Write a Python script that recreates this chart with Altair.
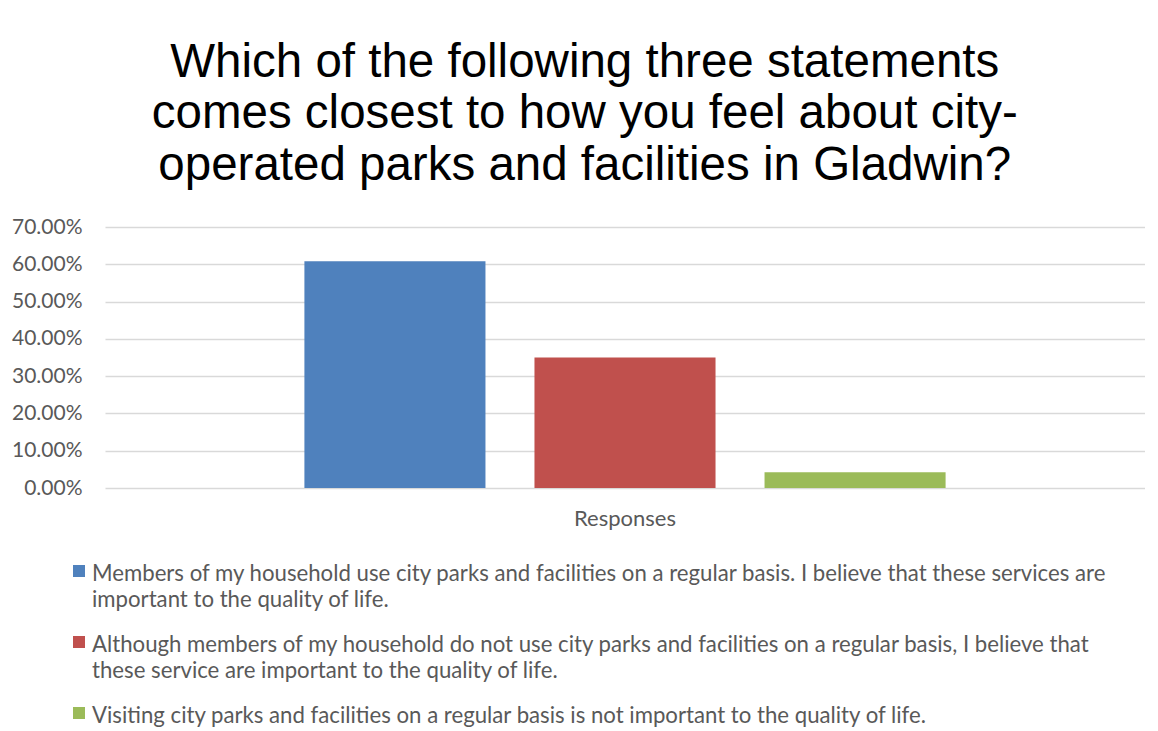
import textwrap
import altair as alt
import pandas as pd

TITLE_LINES = [
    "Which of the following three statements",
    "comes closest to how you feel about city-",
    "operated parks and facilities in Gladwin?",
]
CATEGORY = "Responses"
SERIES = [
    "Members of my household use city parks and facilities on a regular basis. I believe that these services are important to the quality of life.",
    "Although members of my household do not use city parks and facilities on a regular basis, I believe that these service are important to the quality of life.",
    "Visiting city parks and facilities on a regular basis is not important to the quality of life.",
]
VALUES = [0.608, 0.350, 0.042]
COLORS = ["#4F81BD", "#C0504D", "#9BBB59"]
Y_TICKS = [0.0, 0.1, 0.2, 0.3, 0.4, 0.5, 0.6, 0.7]

df = pd.DataFrame({
    "category": [CATEGORY] * len(SERIES),
    "series": SERIES,
    "value": VALUES,
})
df["lines"] = [textwrap.wrap(s, 108) for s in SERIES]

GRAY = "#595959"
color = alt.Color("series:N", scale=alt.Scale(domain=SERIES, range=COLORS), legend=None)

bars = alt.Chart(df).mark_bar().encode(
    x=alt.X(
        "category:N",
        scale=alt.Scale(paddingInner=0, paddingOuter=0.311),
        axis=alt.Axis(title=None, labelAngle=0, ticks=False, domain=False,
                      labelFont="Lato", labelFontSize=22, labelColor=GRAY, labelPadding=20),
    ),
    xOffset=alt.XOffset("series:N", sort=SERIES,
                        scale=alt.Scale(domain=SERIES, paddingInner=0.213, paddingOuter=0)),
    y=alt.Y(
        "value:Q",
        scale=alt.Scale(domain=[0, 0.7], nice=False),
        axis=alt.Axis(values=Y_TICKS, format=".2%", title=None, ticks=False, domain=False,
                      labelFont="Lato", labelFontSize=21, labelColor=GRAY, labelPadding=23,
                      gridColor="#d9d9d9", gridWidth=1.5),
    ),
    color=color,
).properties(width=1040, height=261)

leg_base = alt.Chart(df).encode(
    y=alt.Y("series:N", sort=SERIES, scale=alt.Scale(type="point", padding=0), axis=None)
)
squares = leg_base.mark_square(size=144, opacity=1).encode(x=alt.value(-26), color=color)
texts = leg_base.mark_text(align="left", baseline="alphabetic", dy=10, font="Lato",
                           fontSize=22.2, color=GRAY, lineHeight=26).encode(
    x=alt.value(-13), text="lines:N")
legend = alt.layer(squares, texts).properties(width=1040, height=142)

chart = alt.vconcat(bars, legend, spacing=34).properties(
    title=alt.TitleParams(TITLE_LINES, font="Liberation Sans", fontSize=47.5, fontWeight="normal",
                          color="#000000", lineHeight=51.5, anchor="middle", offset=27, dx=6.5),
    padding={"left": 3, "top": 30, "right": 0, "bottom": 0},
    background="white",
).configure_view(strokeWidth=0, stroke=None)

chart.save("out.html", embed_options={"renderer": "svg", "actions": False})
